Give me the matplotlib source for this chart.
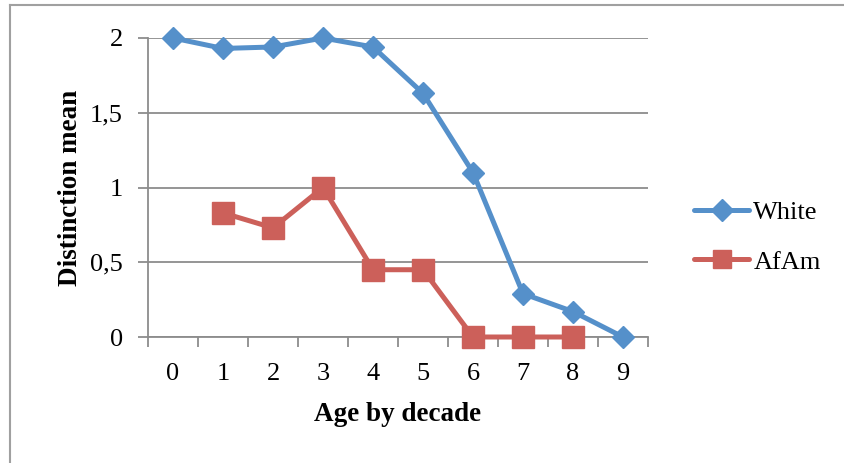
import matplotlib
matplotlib.use("Agg")
import matplotlib.pyplot as plt
import numpy as np
from matplotlib.lines import Line2D

categories = ["0", "1", "2", "3", "4", "5", "6", "7", "8", "9"]
white = [2.0, 1.93, 1.94, 2.0, 1.94, 1.63, 1.10, 0.29, 0.17, 0.0]
afam = [np.nan, 0.83, 0.73, 1.0, 0.45, 0.45, 0.0, 0.0, 0.0, np.nan]
y_ticks = [0, 0.5, 1, 1.5, 2]
y_ticklabels = ["0", "0,5", "1", "1,5", "2"]

blue = "#5590CA"
red = "#CC605A"
grid = "#8C8C8C"
font = ["Liberation Serif", "DejaVu Serif"]

W, H = 844, 463
fig = plt.figure(figsize=(W / 100, H / 100), dpi=100)

# chart area border (left and top visible)
fig.add_artist(Line2D([10 / W, 10 / W], [0, 1 - 4.5 / H], transform=fig.transFigure,
                      color="#A0A0A0", lw=1.5))
fig.add_artist(Line2D([10 / W, 1], [1 - 4.5 / H, 1 - 4.5 / H], transform=fig.transFigure,
                      color="#A0A0A0", lw=1.5))

ax = fig.add_axes([148 / W, (H - 337) / H, 500 / W, (337 - 38) / H])
x = np.arange(len(categories))
ax.plot(x, white, color=blue, lw=3.6, marker="D", ms=11.5, mec=blue, mfc=blue,
        solid_joinstyle="round", solid_capstyle="round", zorder=3, clip_on=False)
ax.plot(x, afam, color=red, lw=3.6, marker="s", ms=15.5, mec=red, mfc=red,
        solid_joinstyle="round", solid_capstyle="round", zorder=3, clip_on=False)

ax.set_xlim(-0.5, len(categories) - 0.5)
ax.set_ylim(0, 2)
ax.set_yticks(y_ticks)
ax.set_yticklabels(y_ticklabels, fontfamily=font, fontsize=19)
ax.set_xticks(x)
ax.set_xticklabels(categories, fontfamily=font, fontsize=19)
ax.set_xticks(np.arange(-0.5, len(categories)), minor=True)
ax.tick_params(axis="x", which="major", length=0, pad=19)
ax.tick_params(axis="x", which="minor", length=7, width=1.3, color=grid, direction="out")
ax.tick_params(axis="y", length=7, width=1.3, color=grid, pad=11)
ax.yaxis.grid(True, color=grid, lw=1.3)
ax.set_axisbelow(True)
for s in ["top", "right"]:
    ax.spines[s].set_visible(False)
for s in ["left", "bottom"]:
    ax.spines[s].set_color(grid)
    ax.spines[s].set_linewidth(1.3)

ax.set_xlabel("Age by decade", fontfamily=font, fontsize=19.5, fontweight="bold", labelpad=12)
ax.set_ylabel("Distinction mean", fontfamily=font, fontsize=19.5, fontweight="bold", labelpad=5)

handles = [
    Line2D([], [], color=blue, lw=3.6, marker="D", ms=11.5, solid_capstyle="round"),
    Line2D([], [], color=red, lw=3.6, marker="s", ms=12.5, solid_capstyle="round"),
]
fig.legend(handles=handles, labels=["White", "AfAm"],
           loc="center left", bbox_to_anchor=(694 / W, 1 - 237 / H),
           frameon=False, prop={"family": font, "size": 19},
           handlelength=2.1, handletextpad=0.15, labelspacing=1.0,
           borderpad=0, borderaxespad=0)

fig.savefig("out.png", dpi=100)
